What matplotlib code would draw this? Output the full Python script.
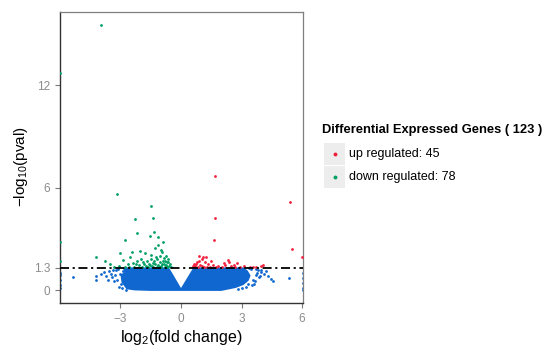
import matplotlib
matplotlib.use('Agg')
import matplotlib.pyplot as plt
from matplotlib.patches import Rectangle
from matplotlib.lines import Line2D

plt.rcParams['font.family'] = ['Liberation Sans', 'DejaVu Sans']
plt.rcParams['mathtext.default'] = 'regular'

# ── DATA ──────────────────────────────────────────────────────────────────────
# up regulated (red), 45 genes: log2 fold change, -log10(pval)
up_x = [1.67, 5.38, 1.70, 1.62, 5.50, 6.00, 0.89, 1.11, 1.23, 2.31,
        2.36, 2.76, 4.07, 3.74, 3.55, 3.40, 0.87, 0.79, 1.20, 0.70,
        0.95, 1.36, 1.61, 1.85, 2.02, 1.49, 0.62, 0.75, 1.02, 1.30,
        1.05, 0.66, 2.20, 2.50, 2.62, 2.90, 3.10, 1.75, 2.15, 0.58,
        1.15, 0.85, 2.70, 1.45, 3.95]
up_y = [6.68, 5.19, 4.24, 2.96, 2.41, 1.96, 1.98, 1.96, 1.92, 1.78,
        1.66, 1.59, 1.47, 1.35, 1.38, 1.33, 1.72, 1.62, 1.62, 1.43,
        1.49, 1.53, 1.49, 1.43, 1.37, 1.72, 1.36, 1.50, 1.40, 1.38,
        1.80, 1.55, 1.45, 1.40, 1.48, 1.35, 1.42, 1.34, 1.60, 1.42,
        1.33, 1.35, 1.34, 1.36, 1.40]

# down regulated (green), 78 genes
down_x = [-3.98, -6.00, -3.19, -1.48, -2.30, -1.40, -2.20, -1.35, -1.56, -1.13,
          -2.79, -3.04, -4.21, -3.79, -1.13, -0.97, -0.94, -1.02, -0.86, -0.77,
          -0.69, -1.18, -1.35, -1.51, -1.67, -1.60, -1.27, -0.94, -0.74, -2.89,
          -2.53, -3.05, -6.00, -6.00, -2.40, -2.20, -2.00, -1.85, -2.10, -2.65,
          -2.80, -3.30, -2.35, -1.95, -1.75, -1.45, -1.20, -1.00, -0.80, -0.60,
          -0.55, -0.65, -0.75, -0.88, -1.05, -1.25, -1.40, -1.50, -1.78, -2.05,
          -2.60, -1.62, -1.10, -0.70, -0.50, -0.90, -1.30, -2.45, -3.50, -1.55,
          -1.90, -0.62, -0.82, -1.15, -0.98, -1.38, -2.25, -0.72]
down_y = [15.55, 12.70, 5.64, 4.90, 4.18, 4.21, 3.33, 3.39, 3.19, 3.09,
          2.96, 2.19, 1.92, 1.72, 2.65, 2.37, 2.21, 2.02, 1.88, 1.72,
          1.62, 1.82, 1.72, 1.82, 1.72, 1.53, 1.53, 1.53, 1.49, 1.78,
          1.92, 1.43, 2.80, 1.70, 1.60, 1.72, 1.85, 1.55, 1.45, 1.50,
          1.38, 1.35, 1.35, 1.38, 1.42, 1.40, 1.38, 1.42, 1.36, 1.40,
          1.55, 1.80, 2.00, 1.68, 1.65, 1.95, 1.58, 2.05, 2.15, 2.30,
          1.35, 1.34, 1.33, 1.33, 1.34, 2.80, 2.45, 2.25, 1.50, 1.48,
          1.65, 1.65, 1.52, 1.48, 1.36, 1.36, 1.50, 1.42]

# not significant (blue): dense core outline + sparse points around it
core_x = [-2.70, -2.95, -3.00, -2.80, -2.90, -0.60, 0.00, 0.62, 3.10, 3.30,
          3.45, 3.35, 3.10, 2.70, 2.00, -1.50, -2.30, -2.55]
core_y = [0.05, 0.45, 0.90, 1.05, 1.33, 1.33, 0.12, 1.33, 1.33, 1.15,
          0.85, 0.55, 0.30, 0.12, -0.05, -0.05, -0.02, 0.02]
ns_x = [-5.37, -4.21, -4.19, -3.98, -3.81, -3.40, -3.32, -3.55, -3.20, -3.00,
        -3.10, -2.95, -3.05, -2.85, -3.60, -3.45, -3.25, -3.15, -3.35, -2.90,
        -2.75, -3.70, -2.70, -2.60,
        4.48, 4.56, 5.35, 3.99, 3.80, 3.70, 3.65, 3.85, 3.30, 3.45,
        3.95, 3.50, 3.75, 3.90, 4.10, 3.60, 3.20, 3.00, 4.20, 4.30,
        3.70, 3.35, 2.85, 3.55,
        -6.00, -6.00, -6.00, -6.00, -6.00, 6.05, 6.05, 6.05, 6.05, 6.05]
ns_y = [0.74, 0.59, 0.80, 0.94, 1.04, 0.78, 0.51, 1.10, 1.20, 0.95,
        1.25, 0.35, 0.20, 1.10, 0.60, 0.95, 0.90, 0.60, 1.20, 0.15,
        0.00, 0.85, 1.18, 1.26,
        0.65, 0.51, 0.71, 1.04, 1.15, 0.90, 0.55, 0.75, 0.35, 1.22,
        1.20, 0.30, 1.00, 0.85, 0.95, 0.35, 0.20, 0.10, 1.10, 0.80,
        1.25, 1.28, 0.05, 0.60,
        1.00, 0.90, 0.60, 0.30, 0.10, 1.00, 0.70, 0.40, 0.15, 0.00]

PVAL_CUT = 1.3
n_up, n_down = len(up_x), len(down_x)

C_UP, C_DOWN, C_NS = '#f2203c', '#00a064', '#0f67cf'

# ── PLOT ──────────────────────────────────────────────────────────────────────
fig = plt.figure(figsize=(5.5, 3.54), dpi=100)
ax = fig.add_axes([0.109, 0.144, 0.442, 0.822])

ax.fill(core_x, core_y, color=C_NS, lw=0, zorder=2)
ax.scatter(ns_x, ns_y, s=4, color=C_NS, lw=0, zorder=2)
ax.scatter(down_x, down_y, s=4, color=C_DOWN, lw=0, zorder=3)
ax.scatter(up_x, up_y, s=4, color=C_UP, lw=0, zorder=3)
ax.axhline(PVAL_CUT, color='black', lw=1.3, ls=(0, (5, 2, 1.2, 2)), zorder=4)

ax.set_xlim(-6.0, 6.05)
ax.set_ylim(-0.76, 16.3)
ax.set_xticks([-3, 0, 3, 6])
ax.set_yticks([0, 1.3, 6, 12])
ax.set_yticklabels(['0', '1.3', '6', '12'])
ax.tick_params(colors='#7a7a7a', labelcolor='#8c8c8c', labelsize=8.5,
               length=3.5, width=0.8)
for side in ['left', 'bottom']:
    ax.spines[side].set_color('#333333')
    ax.spines[side].set_linewidth(1.0)
for side in ['top', 'right']:
    ax.spines[side].set_color('#7f7f7f')
    ax.spines[side].set_linewidth(0.9)

ax.set_xlabel('log$_2$(fold change)', fontsize=11.5, labelpad=2)
ax.set_ylabel('$-$log$_{10}$(pval)', fontsize=11)
ax.yaxis.set_label_coords(-0.125, 0.47)

# legend drawn by hand (grey key boxes like the reference)
fig.text(322 / 550, 1 - 130 / 354, 'Differential Expressed Genes ( %d )' % (n_up + n_down),
         fontsize=9.3, fontweight='bold', va='center', ha='left')
keys = [(C_UP, 'up regulated: %d' % n_up, 154), (C_DOWN, 'down regulated: %d' % n_down, 177)]
for col, lab, ypx in keys:
    fig.add_artist(Rectangle((324 / 550, 1 - (ypx + 11) / 354), 21 / 550, 22 / 354,
                             transform=fig.transFigure, color='#ededed', lw=0))
    fig.add_artist(Line2D([334.5 / 550], [1 - ypx / 354], transform=fig.transFigure,
                          marker='o', ms=1.8, color=col, lw=0))
    fig.text(349 / 550, 1 - ypx / 354, lab, fontsize=9, va='center', ha='left')

plt.savefig('out.png', dpi=100)
plt.close()
